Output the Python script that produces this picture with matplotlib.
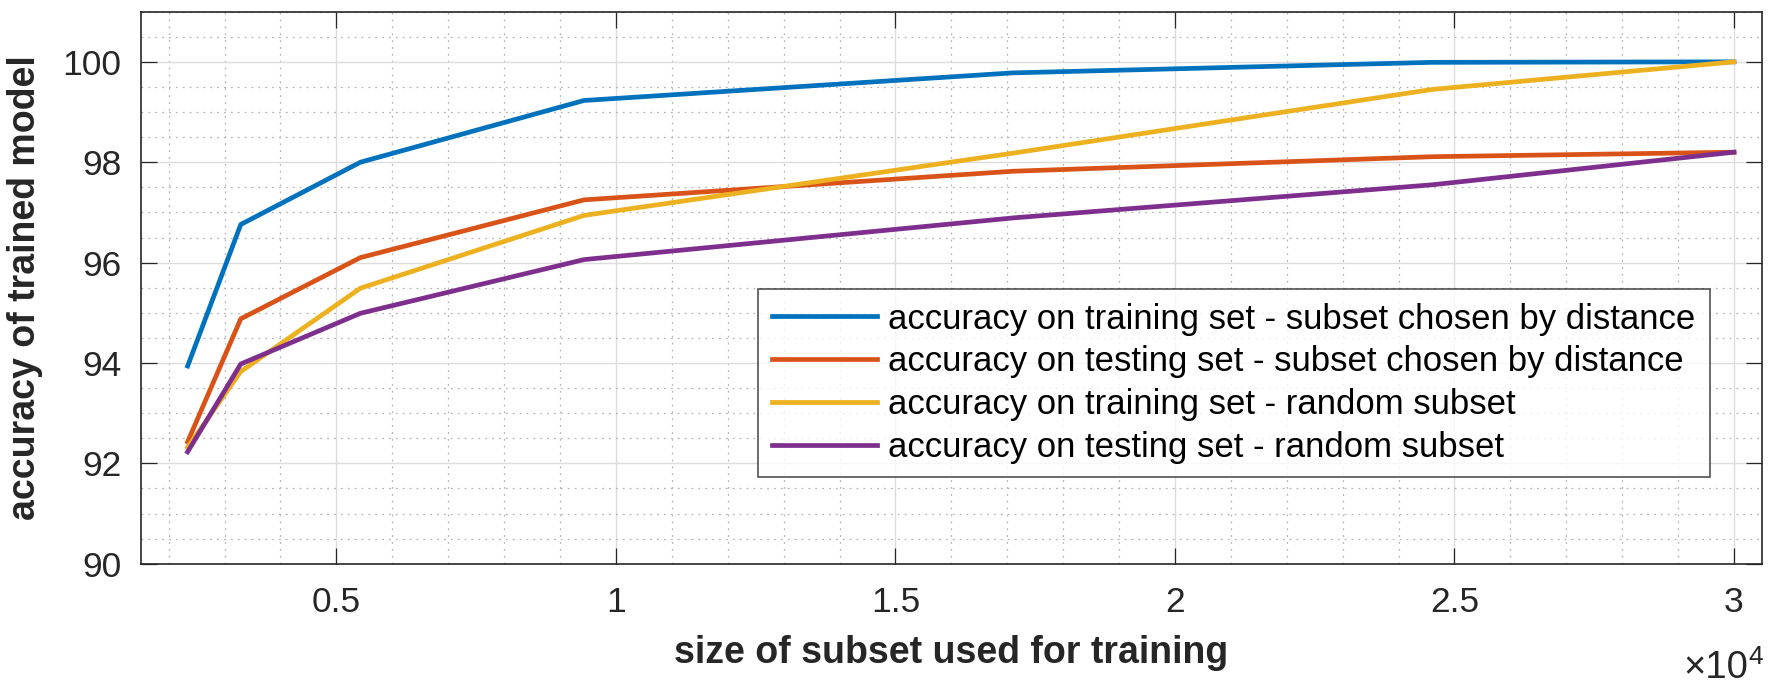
import matplotlib
matplotlib.use("Agg")
import matplotlib.pyplot as plt
from matplotlib.ticker import MultipleLocator, FuncFormatter

# subset sizes used for training
subset_size = [2340, 3290, 5430, 9430, 17100, 24600, 30000]

# accuracy (%) per series
train_dist = [93.94, 96.76, 98.00, 99.23, 99.78, 99.99, 100.0]
test_dist = [92.43, 94.88, 96.10, 97.25, 97.82, 98.11, 98.20]
train_rand = [92.32, 93.83, 95.49, 96.94, 98.18, 99.45, 100.0]
test_rand = [92.23, 93.98, 94.99, 96.06, 96.89, 97.55, 98.20]

labels = [
    "accuracy on training set - subset chosen by distance",
    "accuracy on testing set - subset chosen by distance",
    "accuracy on training set - random subset",
    "accuracy on testing set - random subset",
]
colors = ["#0072BD", "#D95319", "#EDB120", "#7E2F8E"]

plt.rcParams["font.family"] = ["Liberation Sans", "DejaVu Sans"]
dark = "#262626"

fig = plt.figure(figsize=(17.81, 6.85), dpi=100)
ax = fig.add_axes([0.079, 0.177, 0.9103, 0.806])

for ys, c, lab in zip([train_dist, test_dist, train_rand, test_rand], colors, labels):
    ax.plot(subset_size, ys, color=c, lw=3.4, label=lab, solid_joinstyle="round", zorder=3)

ax.set_xlim(1500, 30500)
ax.set_ylim(90, 101)
ax.xaxis.set_major_locator(MultipleLocator(5000))
ax.xaxis.set_minor_locator(MultipleLocator(1000))
ax.yaxis.set_major_locator(MultipleLocator(2))
ax.yaxis.set_minor_locator(MultipleLocator(0.5))
ax.xaxis.set_major_formatter(FuncFormatter(lambda v, p: f"{v / 1e4:g}"))

ax.grid(True, which="major", color="#dcdcdc", lw=1.0, zorder=0)
ax.grid(True, which="minor", color="#b5b5b5", lw=0.9, ls=(0, (1.5, 4)), zorder=0)
ax.set_axisbelow(True)

ax.tick_params(which="major", direction="in", length=11.5, width=0.9, color=dark,
               top=True, right=True, labelsize=25.5, labelcolor=dark)
ax.tick_params(axis="x", pad=16)
ax.tick_params(axis="y", pad=14)
ax.tick_params(which="minor", length=0, top=True, right=True)
for s in ax.spines.values():
    s.set_color(dark)
    s.set_linewidth(1.2)

ax.set_xlabel("size of subset used for training", fontsize=27, fontweight="bold", color=dark)
ax.set_ylabel("accuracy of trained model", fontsize=27, fontweight="bold", color=dark)
ax.xaxis.set_label_coords(0.5, -0.129)
ax.yaxis.set_label_coords(-0.060, 0.5)

# x10^4 multiplier under the right end of the x axis
ax.annotate("×10", xy=(1.0, -0.207), xycoords="axes fraction", xytext=(-10, 0),
            textcoords="offset points", ha="right", va="baseline", fontsize=27.5, color=dark)
ax.annotate("4", xy=(1.0, -0.207), xycoords="axes fraction", xytext=(-10, 10),
            textcoords="offset points", ha="left", va="baseline", fontsize=19, color=dark)

leg = ax.legend(loc="upper left", bbox_to_anchor=(0.381, 0.164, 0.587, 0.333),
                mode="expand", fontsize=25, frameon=True, fancybox=False,
                edgecolor=dark, handlelength=3.05, handletextpad=0.3,
                borderpad=0.38, labelspacing=0.28, borderaxespad=0)
leg.get_frame().set_linewidth(1.2)

fig.savefig("out.png", dpi=100)
